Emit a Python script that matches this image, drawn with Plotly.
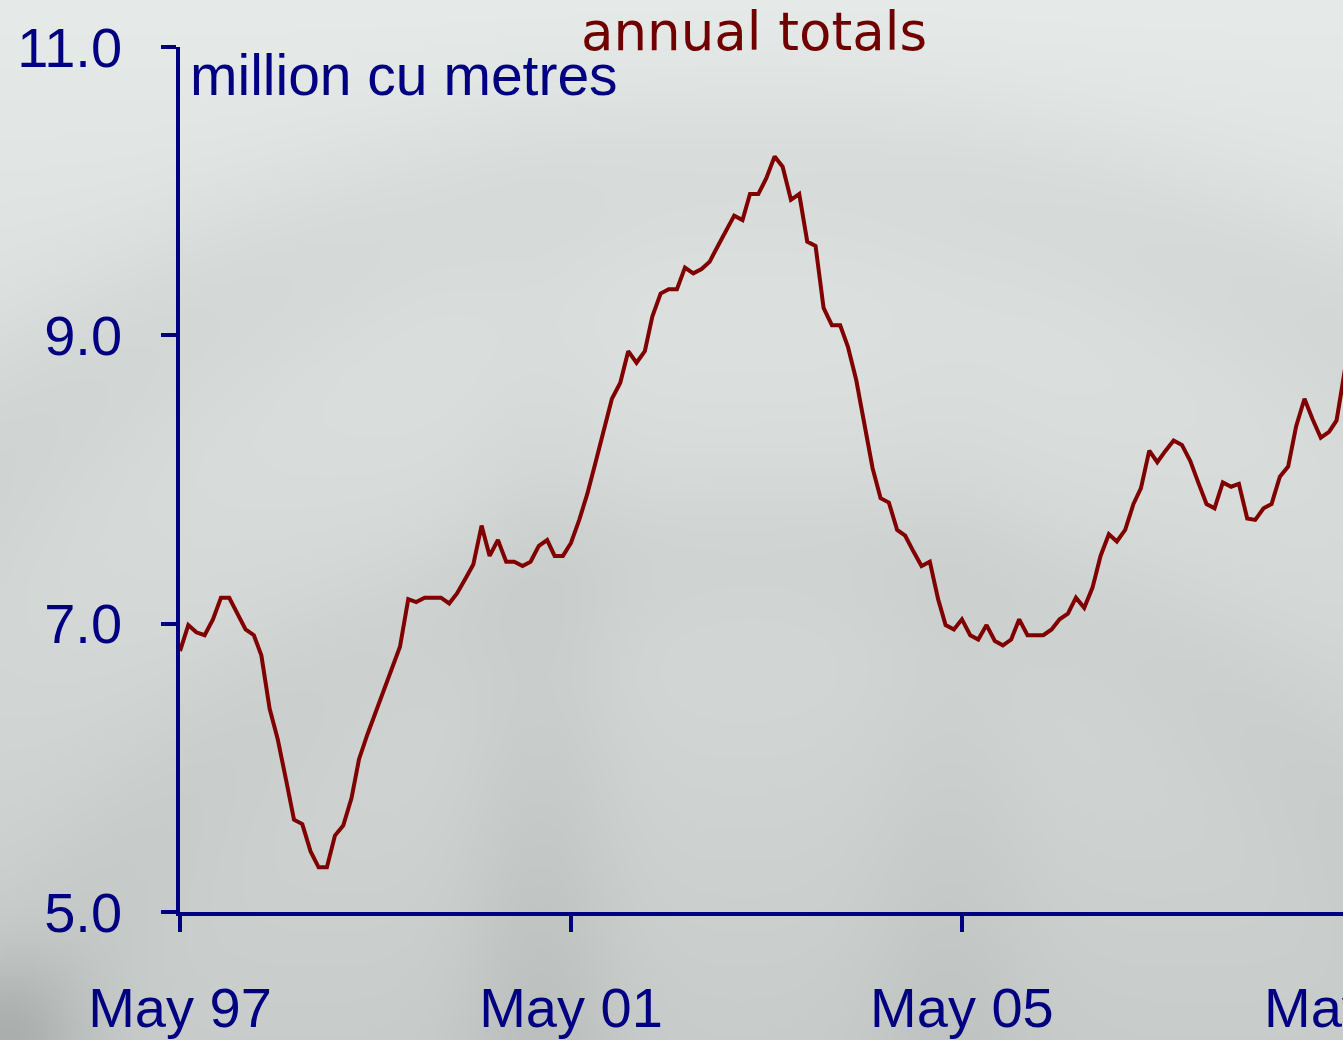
import zlib, struct, base64
import numpy as np
import pandas as pd
import plotly.graph_objects as go

# ---------------- data ----------------
start_month = "1997-05-01"
# annual totals, million cu metres (monthly rolling 12-month totals)
values = [
    6.81, 6.99, 6.94, 6.92, 7.03, 7.18, 7.18, 7.07, 6.96, 6.92,
    6.78, 6.41, 6.20, 5.92, 5.64, 5.61, 5.42, 5.31, 5.31, 5.53,
    5.60, 5.79, 6.06, 6.23, 6.38, 6.52, 6.68, 6.84, 7.17, 7.15,
    7.18, 7.18, 7.18, 7.14, 7.21, 7.31, 7.41, 7.68, 7.47, 7.58,
    7.43, 7.43, 7.40, 7.43, 7.54, 7.58, 7.47, 7.47, 7.56, 7.72,
    7.90, 8.12, 8.34, 8.56, 8.67, 8.89, 8.81, 8.89, 9.13, 9.29,
    9.32, 9.32, 9.47, 9.43, 9.46, 9.51, 9.62, 9.73, 9.83, 9.80,
    9.98, 9.98, 10.09, 10.24, 10.17, 9.94, 9.98, 9.65, 9.62, 9.19,
    9.07, 9.07, 8.92, 8.69, 8.38, 8.08, 7.87, 7.84, 7.65, 7.61,
    7.50, 7.40, 7.43, 7.17, 6.99, 6.96, 7.03, 6.92, 6.89, 6.99,
    6.88, 6.85, 6.89, 7.03, 6.92, 6.92, 6.92, 6.96, 7.03, 7.07,
    7.18, 7.11, 7.25, 7.47, 7.62, 7.57, 7.65, 7.83, 7.94, 8.20,
    8.12, 8.20, 8.27, 8.24, 8.13, 7.98, 7.83, 7.80, 7.98, 7.95,
    7.97, 7.73, 7.72, 7.80, 7.83, 8.02, 8.09, 8.37, 8.56, 8.42,
    8.29, 8.33, 8.41, 8.76,
]
months = pd.date_range(start_month, periods=len(values), freq="MS")

x_tick_vals = ["1997-05-01", "2001-05-01", "2005-05-01", "2009-05-01"]
x_tick_text = ["May 97", "May 01", "May 05", "May 09"]
y_tick_vals = [5, 7, 9, 11]
y_tick_text = ["5.0", "7.0", "9.0", "11.0"]
x_range = ["1997-05-01", "2009-03-25"]
y_range = [5, 11]

title_text = "annual totals"
unit_text = "million cu metres"

# ---------------- geometry ----------------
W, H = 1343, 1040
ML, MR, MT, MB = 180, 0, 47, 128
PW, PH = W - ML - MR, H - MT - MB

NAVY = "#000080"
MAROON = "#800000"


# ---------------- background image (soft grey gradient) ----------------
def make_png(arr):
    h, w, _ = arr.shape
    raw = b"".join(b"\x00" + arr[i].tobytes() for i in range(h))

    def chunk(t, d):
        c = struct.pack(">I", len(d)) + t + d
        return c + struct.pack(">I", zlib.crc32(t + d) & 0xFFFFFFFF)

    return (b"\x89PNG\r\n\x1a\n"
            + chunk(b"IHDR", struct.pack(">IIBBBBB", w, h, 8, 2, 0, 0, 0))
            + chunk(b"IDAT", zlib.compress(raw, 9))
            + chunk(b"IEND", b""))


bw, bh = 336, 260
xs = np.linspace(0, W, bw)[None, :]
ys = np.linspace(0, H, bh)[:, None]
g = 234.0 - 30.0 * (ys / H) + 0 * xs
g -= 13 * np.exp(-((xs - 540) ** 2) / (2 * 55 ** 2)) * (ys / H) ** 1.5
g -= 9 * np.exp(-((xs - 950) ** 2) / (2 * 60 ** 2)) * (ys / H) ** 2
g -= 24 * np.exp(-((xs) ** 2 + (ys - H) ** 2) / (2 * 55 ** 2))
d = np.sqrt((xs - 760) ** 2 + (ys - 1350) ** 2)
g -= 9 * np.exp(-((d - 1180) ** 2) / (2 * 70 ** 2))
g -= 6 * np.exp(-((d - 800) ** 2) / (2 * 60 ** 2))
rgb = np.stack([g - 4, g, g - 1], axis=-1)
rgb = np.clip(rgb, 0, 255).astype(np.uint8)
bg_uri = "data:image/png;base64," + base64.b64encode(make_png(rgb)).decode()

# ---------------- figure ----------------
fig = go.Figure()
fig.add_trace(go.Scatter(
    x=months, y=values, mode="lines",
    line=dict(color=MAROON, width=4),
    hoverinfo="skip", showlegend=False,
))

tick_font = dict(family="Liberation Sans, Arial, sans-serif", size=56, color=NAVY)

fig.update_layout(
    width=W, height=H, autosize=False,
    margin=dict(l=ML, r=MR, t=MT, b=MB, pad=0, autoexpand=False),
    paper_bgcolor="rgba(0,0,0,0)", plot_bgcolor="rgba(0,0,0,0)",
    showlegend=False,
    xaxis=dict(
        type="date", range=x_range, tickmode="array",
        tickvals=x_tick_vals, ticktext=x_tick_text,
        showgrid=False, zeroline=False, automargin=False,
        showline=True, linecolor=NAVY, linewidth=3.5,
        ticks="outside", ticklen=16, tickwidth=3.5, tickcolor=NAVY,
        tickfont=tick_font, ticklabelstandoff=28,
    ),
    yaxis=dict(
        range=y_range, tickmode="array",
        tickvals=y_tick_vals, ticktext=y_tick_text,
        showgrid=False, zeroline=False, automargin=False,
        showline=True, linecolor=NAVY, linewidth=3.5,
        ticks="outside", ticklen=15, tickwidth=3.5, tickcolor=NAVY,
        tickfont=tick_font, ticklabelstandoff=28,
    ),
    images=[dict(
        source=bg_uri, xref="paper", yref="paper",
        x=-ML / PW, y=1 + MT / PH, sizex=W / PW, sizey=H / PH,
        xanchor="left", yanchor="top", sizing="stretch", layer="below",
    )],
)

# label for the May 09 tick that lies just beyond the visible range (clipped at the edge)
r0 = pd.Timestamp(x_range[0]); r1 = pd.Timestamp(x_range[1])
may09_frac = (pd.Timestamp(x_tick_vals[-1]) - r0) / (r1 - r0)

fig.add_annotation(
    text=x_tick_text[-1], xref="paper", yref="paper",
    x=may09_frac, y=0, xanchor="center", yanchor="top",
    xshift=3, yshift=-62, showarrow=False, font=tick_font,
)

fig.add_annotation(
    text=title_text, xref="paper", yref="paper",
    x=(754 - ML) / PW, y=1, xanchor="center", yanchor="middle",
    yshift=16, showarrow=False,
    font=dict(family="DejaVu Sans, Verdana, sans-serif", size=53, color="#700000"),
)
fig.add_annotation(
    text=unit_text, xref="paper", yref="paper",
    x=(188 - ML) / PW, y=1, xanchor="left", yanchor="middle",
    yshift=-28, showarrow=False,
    font=dict(family="Liberation Sans, Arial, sans-serif", size=57, color=NAVY),
)

fig.write_html(
    "out.html",
    config={"displayModeBar": False},
    post_script="document.body.style.margin='0';document.body.style.overflow='hidden';",
)
